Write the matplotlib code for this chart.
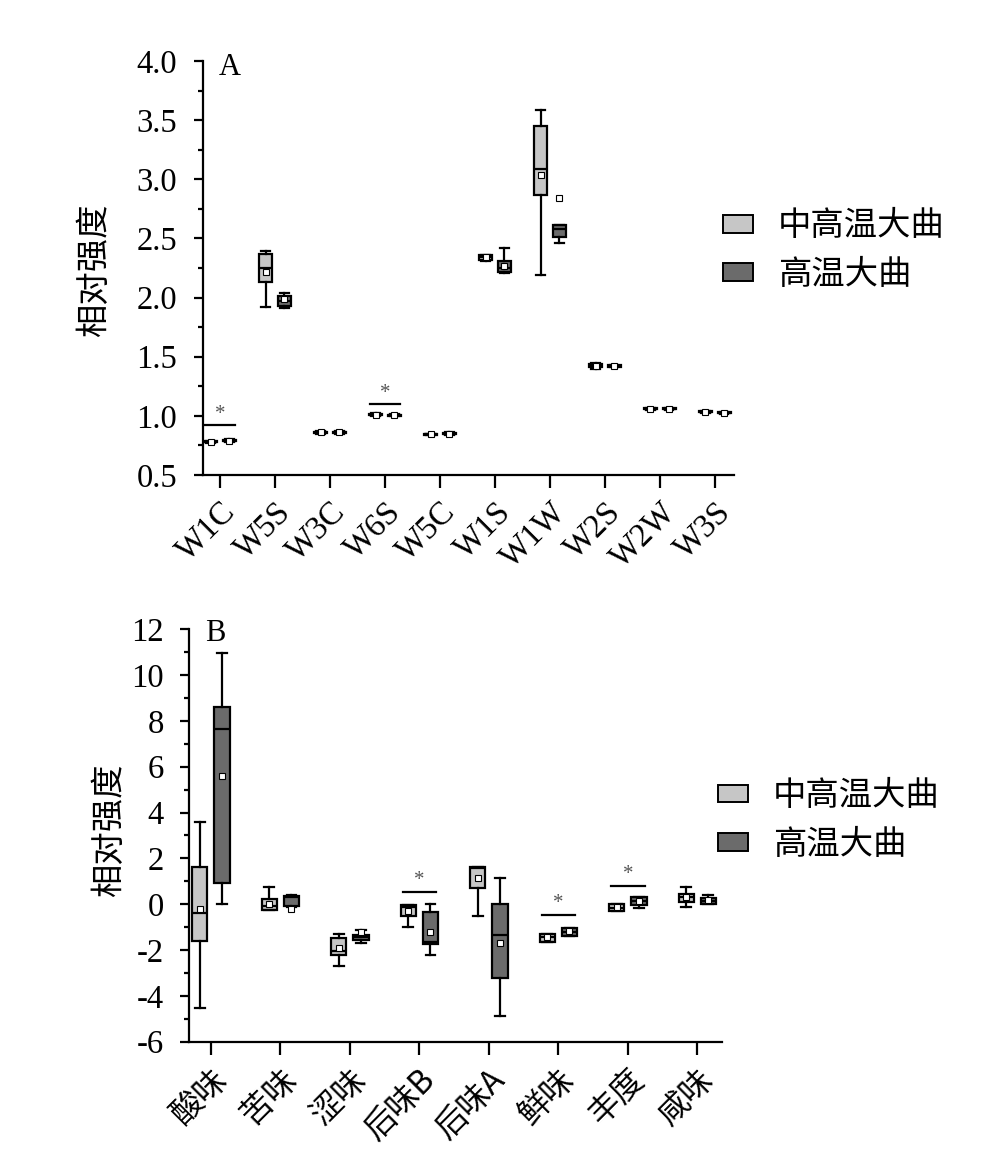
import matplotlib
matplotlib.use("Agg")
import matplotlib.pyplot as plt
from matplotlib.patches import Patch
import numpy as np

plt.rcParams['font.family'] = ['Liberation Serif', 'Noto Sans CJK SC', 'DejaVu Sans']
CJK = ['Noto Sans CJK SC', 'Liberation Serif', 'DejaVu Sans']

# stats per box: [whislo, q1, med, q3, whishi, mean]
cats_a = ['W1C', 'W5S', 'W3C', 'W6S', 'W5C', 'W1S', 'W1W', 'W2S', 'W2W', 'W3S']
a_mid = [
    [0.77, 0.775, 0.78, 0.785, 0.79, 0.78],
    [1.92, 2.13, 2.25, 2.37, 2.39, 2.22],
    [0.85, 0.855, 0.86, 0.865, 0.87, 0.86],
    [1.00, 1.005, 1.01, 1.015, 1.02, 1.01],
    [0.835, 0.84, 0.845, 0.85, 0.85, 0.845],
    [2.31, 2.315, 2.34, 2.36, 2.36, 2.34],
    [2.19, 2.87, 3.09, 3.45, 3.59, 3.04],
    [1.40, 1.41, 1.425, 1.44, 1.445, 1.42],
    [1.05, 1.055, 1.06, 1.065, 1.07, 1.06],
    [1.025, 1.03, 1.035, 1.04, 1.04, 1.035],
]
a_high = [
    [0.78, 0.785, 0.79, 0.795, 0.80, 0.79],
    [1.91, 1.93, 1.97, 2.01, 2.04, 1.99],
    [0.85, 0.855, 0.86, 0.865, 0.87, 0.86],
    [0.995, 1.0, 1.005, 1.01, 1.015, 1.005],
    [0.84, 0.845, 0.85, 0.855, 0.86, 0.85],
    [2.21, 2.22, 2.25, 2.31, 2.42, 2.27],
    [2.46, 2.51, 2.58, 2.61, 2.61, 2.84],
    [1.41, 1.415, 1.42, 1.43, 1.43, 1.42],
    [1.05, 1.055, 1.06, 1.065, 1.07, 1.06],
    [1.015, 1.02, 1.025, 1.03, 1.03, 1.025],
]
sig_a = {'W1C': 0.92, 'W6S': 1.10}

cats_b = ['酸味', '苦味', '涩味', '后味B', '后味A', '鲜味', '丰度', '咸味']
b_mid = [
    [-4.55, -1.6, -0.38, 1.61, 3.6, -0.23],
    [-0.26, -0.26, -0.08, 0.24, 0.76, 0.03],
    [-2.69, -2.22, -2.05, -1.49, -1.28, -1.9],
    [-1.01, -0.52, -0.14, -0.04, -0.04, -0.3],
    [-0.5, 0.69, 1.58, 1.61, 1.61, 1.15],
    [-1.64, -1.64, -1.45, -1.28, -1.28, -1.42],
    [-0.29, -0.29, -0.15, 0.0, 0.0, -0.12],
    [-0.14, 0.1, 0.3, 0.44, 0.76, 0.3],
]
b_high = [
    [-0.01, 0.91, 7.63, 8.6, 10.95, 5.6],
    [-0.1, -0.08, 0.3, 0.35, 0.4, -0.2],
    [-1.69, -1.57, -1.45, -1.35, -1.13, -1.2],
    [-2.22, -1.75, -1.64, -0.36, 0.0, -1.2],
    [-4.88, -3.21, -1.35, 0.0, 1.13, -1.69],
    [-1.39, -1.39, -1.2, -1.03, -1.03, -1.15],
    [-0.18, -0.04, 0.15, 0.32, 0.32, 0.15],
    [0.0, 0.0, 0.15, 0.25, 0.4, 0.18],
]
sig_b = {'后味B': 0.54, '鲜味': -0.48, '丰度': 0.8}

labels = ['中高温大曲', '高温大曲']
c_light = '#c6c6c6'
c_dark = '#6b6b6b'


def to_stats(rows):
    return [dict(whislo=r[0], q1=r[1], med=r[2], q3=r[3], whishi=r[4], mean=r[5], fliers=[])
            for r in rows]


def draw_panel(ax, cats, mid, high, sig, off, width, sig_half, star_dy, tick_font):
    x = np.arange(1, len(cats) + 1)
    for rows, pos, col in [(mid, x - off, c_light), (high, x + off, c_dark)]:
        ax.bxp(to_stats(rows), positions=pos, widths=width, patch_artist=True,
               showmeans=True, showfliers=False, manage_ticks=False,
               boxprops=dict(facecolor=col, edgecolor='black', linewidth=1.6),
               medianprops=dict(color='black', linewidth=1.6),
               whiskerprops=dict(color='black', linewidth=1.6),
               capprops=dict(color='black', linewidth=1.6),
               capwidths=width * 0.65,
               meanprops=dict(marker='s', markerfacecolor='white', markeredgecolor='black',
                              markersize=4, markeredgewidth=0.8))
    for c, yv in sig.items():
        i = cats.index(c) + 1
        ax.plot([i - sig_half, i + sig_half], [yv, yv], color='black', lw=1.6)
        ax.text(i, yv + star_dy, '*', ha='center', va='center', fontsize=15, color='#555555')
    ax.set_xticks(x)
    ax.set_xticklabels(cats, rotation=45, ha='right', rotation_mode='anchor',
                       fontsize=tick_font[1], family=tick_font[0])
    ax.set_xlim(0.69, len(cats) + 0.35)
    for s in ['top', 'right']:
        ax.spines[s].set_visible(False)
    for s in ['left', 'bottom']:
        ax.spines[s].set_linewidth(1.6)
    ax.tick_params(axis='x', which='major', direction='out', length=9.4, width=1.6, pad=6)
    ax.tick_params(axis='y', which='major', direction='out', length=6.5, width=1.6,
                   labelsize=23.5, pad=12)
    ax.tick_params(axis='y', which='minor', direction='out', length=3.8, width=1.6)
    ax.set_ylabel('相对强度', family=CJK, fontsize=24)
    ax.legend(handles=[Patch(facecolor=c_light, edgecolor='black', lw=1.4, label=labels[0]),
                       Patch(facecolor=c_dark, edgecolor='black', lw=1.4, label=labels[1])],
              loc='center left', frameon=False, borderpad=0, borderaxespad=0,
              prop=dict(family=CJK, size=24), handlelength=0.9, handleheight=0.45,
              handletextpad=0.75, labelspacing=0.4)


fig = plt.figure(figsize=(9.82, 11.69), dpi=100)

ax1 = fig.add_axes([0.2067, 0.5937, 0.5408, 0.3541])
draw_panel(ax1, cats_a, a_mid, a_high, sig_a, 0.17, 0.24, 0.28, 0.09, (None, 23.5))
ax1.set_ylim(0.5, 4.0)
ax1.set_yticks(np.arange(0.5, 4.01, 0.5))
ax1.set_yticklabels([f'{v:.1f}' for v in np.arange(0.5, 4.01, 0.5)])
ax1.set_yticks(np.arange(0.75, 4.0, 0.5), minor=True)
ax1.yaxis.set_label_coords(-0.171, 0.495)
ax1.text(0.03, 1.02, 'A', transform=ax1.transAxes, fontsize=22, va='top', ha='left')
ax1.get_legend().set_bbox_to_anchor((0.736, 0.786), transform=fig.transFigure)

ax2 = fig.add_axes([0.1928, 0.1089, 0.5421, 0.3528])
draw_panel(ax2, cats_b, b_mid, b_high, sig_b, 0.16, 0.22, 0.24, 0.5, (CJK, 23))
ax2.set_ylim(-6, 12)
ax2.set_yticks(np.arange(-6, 12.1, 2))
ax2.set_yticklabels([str(int(v)) for v in np.arange(-6, 12.1, 2)])
ax2.set_yticks(np.arange(-5, 12, 2), minor=True)
ax2.yaxis.set_label_coords(-0.118, 0.513)
ax2.text(0.03, 1.025, 'B', transform=ax2.transAxes, fontsize=22, va='top', ha='left')
ax2.get_legend().set_bbox_to_anchor((0.731, 0.2985), transform=fig.transFigure)

fig.savefig('out.png', dpi=100)
